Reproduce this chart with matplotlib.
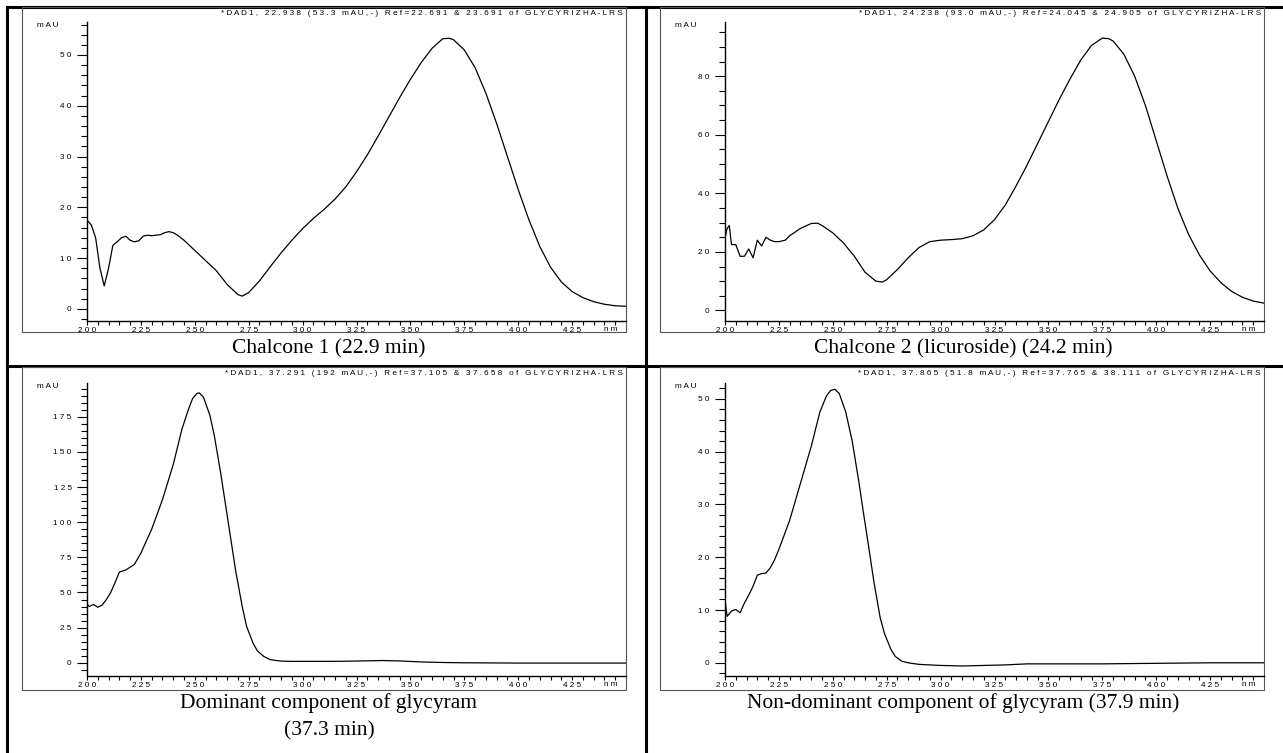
import numpy as np
import matplotlib
matplotlib.use("Agg")
import matplotlib.pyplot as plt
from matplotlib.ticker import MultipleLocator, FixedLocator, FuncFormatter

# ---- data ----
wl1 = [200, 202, 204, 206, 208, 210, 212, 214, 216, 218, 220, 222, 224, 226, 228,
       230, 232, 234, 236, 238, 240, 242, 245, 250, 255, 260, 265, 270, 272, 275,
       280, 285, 290, 295, 300, 305, 310, 315, 320, 325, 330, 335, 340, 345, 350,
       355, 360, 365, 368, 370, 375, 380, 385, 390, 395, 400, 405, 410, 415, 420,
       425, 430, 435, 440, 445, 450]
ab1 = [17.5, 16.5, 14.0, 8.0, 4.5, 8.0, 12.5, 13.2, 14.0, 14.3, 13.5, 13.2, 13.4, 14.3, 14.5,
       14.4, 14.5, 14.6, 15.0, 15.2, 15.0, 14.5, 13.5, 11.5, 9.5, 7.5, 4.8, 2.8, 2.5, 3.2,
       5.5, 8.3, 11.0, 13.5, 15.8, 17.8, 19.6, 21.6, 24.0, 27.0, 30.3, 34.0, 37.8, 41.6, 45.2,
       48.5, 51.3, 53.2, 53.3, 53.0, 51.0, 47.5, 42.5, 36.5, 30.0, 23.5, 17.5, 12.3, 8.2, 5.3,
       3.4, 2.2, 1.4, 0.9, 0.6, 0.5]

wl2 = [200, 201, 202, 203, 205, 207, 209, 211, 213, 215, 217, 219, 221, 223, 225,
       228, 230, 235, 240, 243, 245, 250, 255, 260, 265, 270, 273, 275, 280, 285,
       290, 295, 300, 305, 310, 315, 320, 325, 330, 335, 340, 345, 350, 355, 360,
       365, 370, 375, 378, 380, 385, 390, 395, 400, 405, 410, 415, 420, 425, 430,
       435, 440, 445, 450]
ab2 = [25.0, 28.0, 29.0, 22.5, 22.5, 18.5, 18.5, 21.0, 18.0, 24.0, 22.0, 25.0, 24.0, 23.5, 23.5,
       24.0, 25.5, 28.0, 29.7, 29.8, 29.0, 26.5, 23.0, 18.5, 13.0, 10.0, 9.7, 10.5, 14.0, 18.0,
       21.5, 23.5, 24.0, 24.2, 24.5, 25.5, 27.5, 31.0, 36.0, 42.5, 49.5, 57.0, 64.5, 72.0, 79.0,
       85.5, 90.5, 93.0, 92.8, 92.0, 87.5, 80.0, 70.0, 58.0, 46.0, 35.0, 26.0, 19.0, 13.5, 9.5,
       6.5, 4.5, 3.2, 2.5]

wl3 = [200, 201, 203, 205, 207, 209, 211, 213, 215, 218, 220, 222, 225, 230, 235,
       240, 244, 247, 249, 251, 252, 254, 257, 259, 262, 264, 267, 269, 272, 274,
       277, 279, 282, 285, 290, 295, 300, 310, 320, 330, 337, 345, 355, 365, 375,
       400, 450]
ab3 = [42.0, 40.0, 41.5, 39.5, 41.0, 45.0, 50.0, 57.0, 64.5, 66.0, 68.0, 70.0, 78.0, 95.0, 116.0,
       141.0, 166.0, 180.0, 188.0, 191.5, 192.0, 189.0, 176.0, 162.0, 135.0, 115.0, 85.0, 65.0, 40.0, 26.0,
       14.0, 8.5, 4.5, 2.2, 1.2, 1.0, 1.0, 1.0, 1.1, 1.4, 1.6, 1.3, 0.6, 0.2, 0.0,
       -0.2, -0.2]

wl4 = [200, 201, 203, 205, 207, 209, 211, 213, 215, 217, 219, 221, 223, 225, 230,
       235, 240, 244, 247, 249, 251, 253, 256, 259, 262, 264, 267, 269, 272, 274,
       277, 279, 282, 285, 290, 300, 310, 320, 330, 340, 350, 375, 400, 425, 450]
ab4 = [11.7, 8.8, 9.8, 10.1, 9.5, 11.3, 12.8, 14.5, 16.6, 16.9, 17.0, 18.0, 19.5, 21.5, 27.0,
       34.0, 41.0, 47.5, 50.5, 51.6, 51.8, 51.0, 47.5, 42.0, 34.5, 29.0, 21.0, 15.5, 8.5, 5.5,
       2.5, 1.2, 0.3, 0.0, -0.3, -0.5, -0.6, -0.5, -0.4, -0.2, -0.2, -0.2, -0.1, 0.0, 0.0]

headers = ["*DAD1, 22.938 (53.3 mAU,-) Ref=22.691 & 23.691 of GLYCYRIZHA-LRS",
           "*DAD1, 24.238 (93.0 mAU,-) Ref=24.045 & 24.905 of GLYCYRIZHA-LRS",
           "*DAD1, 37.291 (192 mAU,-) Ref=37.105 & 37.658 of GLYCYRIZHA-LRS",
           "*DAD1, 37.865 (51.8 mAU,-) Ref=37.765 & 38.111 of GLYCYRIZHA-LRS"]
captions = ["Chalcone 1 (22.9 min)",
            "Chalcone 2 (licuroside) (24.2 min)",
            "Dominant component of glycyram\n(37.3 min)",
            "Non-dominant component of glycyram (37.9 min)"]
ylims = [(-2.4, 56.5), (-3.6, 98.5), (-9.4, 199.0), (-2.5, 53.0)]
ysteps = [(10, 2), (20, 5), (25, 5), (10, 2)]

W, H = 1283, 753
fig = plt.figure(figsize=(W / 100, H / 100), dpi=100)
plt.rcParams['font.family'] = ['Liberation Sans', 'DejaVu Sans']
small = 5.9


def spaced(s):
    return " ".join(s)


# overlay in pixel coords for the table frame and captions
ov = fig.add_axes([0, 0, 1, 1])
ov.set_xlim(0, W)
ov.set_ylim(H, 0)
ov.axis('off')

# table rules
lw_t = 2.2
ov.plot([7, W], [7, 7], color='k', lw=lw_t)
ov.plot([7, 7], [7, H], color='k', lw=lw_t)
ov.plot([646, 646], [7, H], color='k', lw=lw_t)
ov.plot([7, W], [366, 366], color='k', lw=lw_t)

# image boxes (left, top, right, bottom) and axes boxes
boxes = [(22, 7, 626, 332), (660, 7, 1264, 332), (22, 367, 626, 690), (660, 367, 1264, 690)]
axboxes = [(87, 22, 626, 321), (725, 22, 1264, 321), (87, 383, 626, 676), (725, 383, 1264, 676)]
cap_xy = [(329, 348), (963, 348), (329, 716), (963, 702)]

wls = [wl1, wl2, wl3, wl4]
abs_ = [ab1, ab2, ab3, ab4]

for i in range(4):
    l, t, r, b = boxes[i]
    ov.plot([l, r, r, l, l], [t, t, b, b, t], color='#555555', lw=0.8)

    al, at, ar, ab = axboxes[i]
    ax = fig.add_axes([al / W, 1 - ab / H, (ar - al) / W, (ab - at) / H])
    ax.plot(wls[i], abs_[i], color='k', lw=0.9)
    ax.set_xlim(200, 450)
    ax.set_ylim(*ylims[i])
    ax.patch.set_alpha(0)
    for s in ['top', 'right']:
        ax.spines[s].set_visible(False)
    ax.spines['left'].set_linewidth(1.0)
    ax.spines['bottom'].set_linewidth(1.0)

    ax.xaxis.set_major_locator(FixedLocator(range(200, 426, 25)))
    ax.xaxis.set_minor_locator(FixedLocator(range(200, 446, 5)))
    ax.yaxis.set_major_locator(MultipleLocator(ysteps[i][0]))
    ax.yaxis.set_minor_locator(MultipleLocator(ysteps[i][1]))
    fmt = FuncFormatter(lambda v, p: spaced("%d" % round(v)))
    ax.xaxis.set_major_formatter(fmt)
    ax.yaxis.set_major_formatter(fmt)
    ax.tick_params(axis='x', which='both', direction='out', length=3, width=0.8,
                   labelsize=small, pad=1.5)
    ax.tick_params(axis='y', which='major', direction='out', length=7, width=0.8,
                   labelsize=small, pad=4)
    ax.tick_params(axis='y', which='minor', direction='out', length=4, width=0.8)

    ax.annotate(spaced("nm"), xy=(1, 0), xycoords='axes fraction', xytext=(-8, -8),
                textcoords='offset pixels', ha='right', va='center', fontsize=small)

    ov.text(al - 39, at + 3, spaced("mAU"), ha='center', va='center', fontsize=small)
    ov.text(r - 3, t + 6, spaced(headers[i]), ha='right', va='center', fontsize=small)

    ov.text(cap_xy[i][0], cap_xy[i][1] + 1, captions[i], ha='center', va='center',
            fontsize=15.5, family=['Liberation Serif', 'DejaVu Serif'], linespacing=1.55)

fig.savefig('out.png', dpi=100)
